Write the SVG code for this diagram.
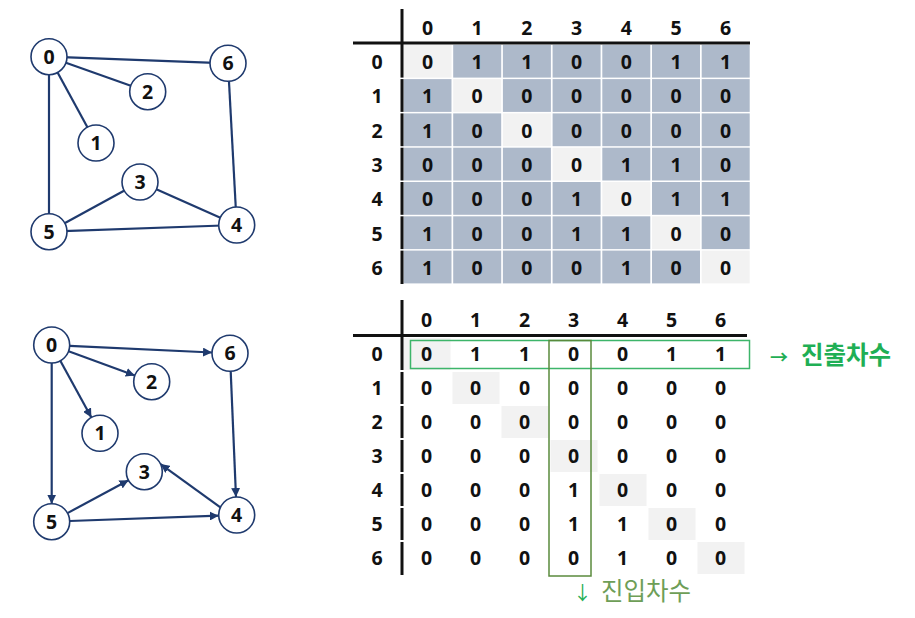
<svg xmlns="http://www.w3.org/2000/svg" width="915" height="618" viewBox="0 0 915 618">
<style>
.edge{stroke:#1F3A6E;stroke-width:2.2;fill:none}
.node circle{fill:#fff;stroke:#1F3A6E;stroke-width:1.6}
.node text,.t{font-family:"Noto Sans","DejaVu Sans",sans-serif;font-weight:bold;font-size:19.5px;fill:#111;text-anchor:middle}
.c{fill:#ADB9CA}
.d{fill:#F2F2F2}
.bar{stroke:#111;stroke-width:3}
.ko{font-family:"Noto Sans CJK KR","Noto Sans",sans-serif}
</style>
<defs>
<marker id="arr" viewBox="0 0 10 10" refX="10" refY="5" markerWidth="9" markerHeight="9" markerUnits="userSpaceOnUse" orient="auto">
<path d="M0,0 L10,5 L0,10 z" fill="#1F3A6E"/>
</marker>
</defs>
<rect width="915" height="618" fill="#fff"/>

<!-- top graph -->
<g id="top-edges">
<line class="edge" x1="49" y1="56.7" x2="228" y2="63.3"/>
<line class="edge" x1="49" y1="56.7" x2="147.7" y2="91.7"/>
<line class="edge" x1="49" y1="56.7" x2="96" y2="143"/>
<line class="edge" x1="49" y1="56.7" x2="49" y2="231.7"/>
<line class="edge" x1="228" y1="63.3" x2="236.7" y2="225"/>
<line class="edge" x1="140" y1="182" x2="49" y2="231.7"/>
<line class="edge" x1="140" y1="182" x2="236.7" y2="225"/>
<line class="edge" x1="49" y1="231.7" x2="236.7" y2="225"/>
</g>
<g id="t0" class="node"><circle cx="49" cy="56.7" r="18"/><text x="49" y="63.7">0</text></g>
<g id="t6" class="node"><circle cx="228" cy="63.3" r="18"/><text x="228" y="70.3">6</text></g>
<g id="t2" class="node"><circle cx="147.7" cy="91.7" r="18"/><text x="147.7" y="98.7">2</text></g>
<g id="t1" class="node"><circle cx="96" cy="143" r="18"/><text x="96" y="150">1</text></g>
<g id="t3" class="node"><circle cx="140" cy="182" r="18"/><text x="140" y="189">3</text></g>
<g id="t5" class="node"><circle cx="49" cy="231.7" r="18"/><text x="49" y="238.7">5</text></g>
<g id="t4" class="node"><circle cx="236.7" cy="225" r="18"/><text x="236.7" y="232">4</text></g>

<!-- bottom graph -->
<g id="bottom-edges">
<line class="edge" x1="69.7" y1="345.8" x2="212" y2="352.5" marker-end="url(#arr)"/>
<line class="edge" x1="68.6" y1="351.2" x2="134.8" y2="375.5" marker-end="url(#arr)"/>
<line class="edge" x1="60.3" y1="360.8" x2="91.4" y2="417.5" marker-end="url(#arr)"/>
<line class="edge" x1="51.7" y1="363" x2="51.7" y2="503.7" marker-end="url(#arr)"/>
<line class="edge" x1="230.7" y1="371.3" x2="236" y2="497" marker-end="url(#arr)"/>
<line class="edge" x1="67.5" y1="513.1" x2="128.5" y2="480.2" marker-end="url(#arr)"/>
<line class="edge" x1="220.4" y1="507.4" x2="160.6" y2="464.1" marker-end="url(#arr)"/>
<line class="edge" x1="69.7" y1="521" x2="218.7" y2="515.7" marker-end="url(#arr)"/>
</g>
<g id="b0" class="node"><circle cx="51.7" cy="345" r="18"/><text x="51.7" y="352">0</text></g>
<g id="b6" class="node"><circle cx="230" cy="353.3" r="18"/><text x="230" y="360.3">6</text></g>
<g id="b2" class="node"><circle cx="151.7" cy="381.7" r="18"/><text x="151.7" y="388.7">2</text></g>
<g id="b1" class="node"><circle cx="100" cy="433.3" r="18"/><text x="100" y="440.3">1</text></g>
<g id="b3" class="node"><circle cx="144.3" cy="471.7" r="18"/><text x="144.3" y="478.7">3</text></g>
<g id="b5" class="node"><circle cx="51.7" cy="521.7" r="18"/><text x="51.7" y="528.7">5</text></g>
<g id="b4" class="node"><circle cx="236.7" cy="515" r="18"/><text x="236.7" y="522">4</text></g>

<!-- top matrix -->
<g id="top-matrix">
<g id="top-cells">
<rect class="d" x="403.5" y="44.8" width="48" height="32.8"/>
<rect class="c" x="453.2" y="44.8" width="48" height="32.8"/>
<rect class="c" x="502.9" y="44.8" width="48" height="32.8"/>
<rect class="c" x="552.6" y="44.8" width="48" height="32.8"/>
<rect class="c" x="602.3" y="44.8" width="48" height="32.8"/>
<rect class="c" x="652" y="44.8" width="48" height="32.8"/>
<rect class="c" x="701.7" y="44.8" width="48" height="32.8"/>

<rect class="c" x="403.5" y="79.1" width="48" height="32.8"/>
<rect class="d" x="453.2" y="79.1" width="48" height="32.8"/>
<rect class="c" x="502.9" y="79.1" width="48" height="32.8"/>
<rect class="c" x="552.6" y="79.1" width="48" height="32.8"/>
<rect class="c" x="602.3" y="79.1" width="48" height="32.8"/>
<rect class="c" x="652" y="79.1" width="48" height="32.8"/>
<rect class="c" x="701.7" y="79.1" width="48" height="32.8"/>

<rect class="c" x="403.5" y="113.4" width="48" height="32.8"/>
<rect class="c" x="453.2" y="113.4" width="48" height="32.8"/>
<rect class="d" x="502.9" y="113.4" width="48" height="32.8"/>
<rect class="c" x="552.6" y="113.4" width="48" height="32.8"/>
<rect class="c" x="602.3" y="113.4" width="48" height="32.8"/>
<rect class="c" x="652" y="113.4" width="48" height="32.8"/>
<rect class="c" x="701.7" y="113.4" width="48" height="32.8"/>

<rect class="c" x="403.5" y="147.7" width="48" height="32.8"/>
<rect class="c" x="453.2" y="147.7" width="48" height="32.8"/>
<rect class="c" x="502.9" y="147.7" width="48" height="32.8"/>
<rect class="d" x="552.6" y="147.7" width="48" height="32.8"/>
<rect class="c" x="602.3" y="147.7" width="48" height="32.8"/>
<rect class="c" x="652" y="147.7" width="48" height="32.8"/>
<rect class="c" x="701.7" y="147.7" width="48" height="32.8"/>

<rect class="c" x="403.5" y="182" width="48" height="32.8"/>
<rect class="c" x="453.2" y="182" width="48" height="32.8"/>
<rect class="c" x="502.9" y="182" width="48" height="32.8"/>
<rect class="c" x="552.6" y="182" width="48" height="32.8"/>
<rect class="d" x="602.3" y="182" width="48" height="32.8"/>
<rect class="c" x="652" y="182" width="48" height="32.8"/>
<rect class="c" x="701.7" y="182" width="48" height="32.8"/>

<rect class="c" x="403.5" y="216.3" width="48" height="32.8"/>
<rect class="c" x="453.2" y="216.3" width="48" height="32.8"/>
<rect class="c" x="502.9" y="216.3" width="48" height="32.8"/>
<rect class="c" x="552.6" y="216.3" width="48" height="32.8"/>
<rect class="c" x="602.3" y="216.3" width="48" height="32.8"/>
<rect class="d" x="652" y="216.3" width="48" height="32.8"/>
<rect class="c" x="701.7" y="216.3" width="48" height="32.8"/>

<rect class="c" x="403.5" y="250.6" width="48" height="32.8"/>
<rect class="c" x="453.2" y="250.6" width="48" height="32.8"/>
<rect class="c" x="502.9" y="250.6" width="48" height="32.8"/>
<rect class="c" x="552.6" y="250.6" width="48" height="32.8"/>
<rect class="c" x="602.3" y="250.6" width="48" height="32.8"/>
<rect class="c" x="652" y="250.6" width="48" height="32.8"/>
<rect class="d" x="701.7" y="250.6" width="48" height="32.8"/>
</g>
<line class="bar" x1="353" y1="43" x2="750" y2="43"/>
<line class="bar" x1="402" y1="9" x2="402" y2="77.6"/>
<line class="bar" x1="402" y1="79.1" x2="402" y2="111.9"/>
<line class="bar" x1="402" y1="113.4" x2="402" y2="146.2"/>
<line class="bar" x1="402" y1="147.7" x2="402" y2="180.5"/>
<line class="bar" x1="402" y1="182" x2="402" y2="214.8"/>
<line class="bar" x1="402" y1="216.3" x2="402" y2="249.1"/>
<line class="bar" x1="402" y1="250.6" x2="402" y2="284"/>
<g id="top-text">
<text class="t" x="427.5" y="35">0</text><text class="t" x="477.2" y="35">1</text><text class="t" x="526.9" y="35">2</text><text class="t" x="576.6" y="35">3</text><text class="t" x="626.3" y="35">4</text><text class="t" x="676" y="35">5</text><text class="t" x="725.7" y="35">6</text>
<text class="t" x="377" y="69">0</text><text class="t" x="377" y="103.3">1</text><text class="t" x="377" y="137.6">2</text><text class="t" x="377" y="171.9">3</text><text class="t" x="377" y="206.2">4</text><text class="t" x="377" y="240.5">5</text><text class="t" x="377" y="274.8">6</text>

<text class="t" x="427.5" y="69">0</text><text class="t" x="477.2" y="69">1</text><text class="t" x="526.9" y="69">1</text><text class="t" x="576.6" y="69">0</text><text class="t" x="626.3" y="69">0</text><text class="t" x="676" y="69">1</text><text class="t" x="725.7" y="69">1</text>
<text class="t" x="427.5" y="103.3">1</text><text class="t" x="477.2" y="103.3">0</text><text class="t" x="526.9" y="103.3">0</text><text class="t" x="576.6" y="103.3">0</text><text class="t" x="626.3" y="103.3">0</text><text class="t" x="676" y="103.3">0</text><text class="t" x="725.7" y="103.3">0</text>
<text class="t" x="427.5" y="137.6">1</text><text class="t" x="477.2" y="137.6">0</text><text class="t" x="526.9" y="137.6">0</text><text class="t" x="576.6" y="137.6">0</text><text class="t" x="626.3" y="137.6">0</text><text class="t" x="676" y="137.6">0</text><text class="t" x="725.7" y="137.6">0</text>
<text class="t" x="427.5" y="171.9">0</text><text class="t" x="477.2" y="171.9">0</text><text class="t" x="526.9" y="171.9">0</text><text class="t" x="576.6" y="171.9">0</text><text class="t" x="626.3" y="171.9">1</text><text class="t" x="676" y="171.9">1</text><text class="t" x="725.7" y="171.9">0</text>
<text class="t" x="427.5" y="206.2">0</text><text class="t" x="477.2" y="206.2">0</text><text class="t" x="526.9" y="206.2">0</text><text class="t" x="576.6" y="206.2">1</text><text class="t" x="626.3" y="206.2">0</text><text class="t" x="676" y="206.2">1</text><text class="t" x="725.7" y="206.2">1</text>
<text class="t" x="427.5" y="240.5">1</text><text class="t" x="477.2" y="240.5">0</text><text class="t" x="526.9" y="240.5">0</text><text class="t" x="576.6" y="240.5">1</text><text class="t" x="626.3" y="240.5">1</text><text class="t" x="676" y="240.5">0</text><text class="t" x="725.7" y="240.5">0</text>
<text class="t" x="427.5" y="274.8">1</text><text class="t" x="477.2" y="274.8">0</text><text class="t" x="526.9" y="274.8">0</text><text class="t" x="576.6" y="274.8">0</text><text class="t" x="626.3" y="274.8">1</text><text class="t" x="676" y="274.8">0</text><text class="t" x="725.7" y="274.8">0</text>
</g>
</g>

<!-- bottom matrix -->
<g id="bottom-matrix">
<g id="bottom-cells">
<rect class="d" x="403.5" y="338" width="47" height="32"/>
<rect class="d" x="452.5" y="372" width="47" height="32"/>
<rect class="d" x="501.5" y="406" width="47" height="32"/>
<rect class="d" x="550.5" y="440" width="47" height="32"/>
<rect class="d" x="599.5" y="474" width="47" height="32"/>
<rect class="d" x="648.5" y="508" width="47" height="32"/>
<rect class="d" x="697.5" y="542" width="47" height="32"/>
</g>
<line class="bar" x1="353" y1="335.5" x2="747" y2="335.5"/>
<line class="bar" x1="402" y1="300" x2="402" y2="370"/>
<line class="bar" x1="402" y1="372" x2="402" y2="404"/>
<line class="bar" x1="402" y1="406" x2="402" y2="438"/>
<line class="bar" x1="402" y1="440" x2="402" y2="472"/>
<line class="bar" x1="402" y1="474" x2="402" y2="506"/>
<line class="bar" x1="402" y1="508" x2="402" y2="540"/>
<line class="bar" x1="402" y1="542" x2="402" y2="575"/>
<g id="bottom-text">
<text class="t" x="426.5" y="327">0</text><text class="t" x="475.5" y="327">1</text><text class="t" x="524.5" y="327">2</text><text class="t" x="573.5" y="327">3</text><text class="t" x="622.5" y="327">4</text><text class="t" x="671.5" y="327">5</text><text class="t" x="720.5" y="327">6</text>
<text class="t" x="377" y="361">0</text><text class="t" x="377" y="395">1</text><text class="t" x="377" y="429">2</text><text class="t" x="377" y="463">3</text><text class="t" x="377" y="497">4</text><text class="t" x="377" y="531">5</text><text class="t" x="377" y="565">6</text>

<text class="t" x="426.5" y="361">0</text><text class="t" x="475.5" y="361">1</text><text class="t" x="524.5" y="361">1</text><text class="t" x="573.5" y="361">0</text><text class="t" x="622.5" y="361">0</text><text class="t" x="671.5" y="361">1</text><text class="t" x="720.5" y="361">1</text>
<text class="t" x="426.5" y="395">0</text><text class="t" x="475.5" y="395">0</text><text class="t" x="524.5" y="395">0</text><text class="t" x="573.5" y="395">0</text><text class="t" x="622.5" y="395">0</text><text class="t" x="671.5" y="395">0</text><text class="t" x="720.5" y="395">0</text>
<text class="t" x="426.5" y="429">0</text><text class="t" x="475.5" y="429">0</text><text class="t" x="524.5" y="429">0</text><text class="t" x="573.5" y="429">0</text><text class="t" x="622.5" y="429">0</text><text class="t" x="671.5" y="429">0</text><text class="t" x="720.5" y="429">0</text>
<text class="t" x="426.5" y="463">0</text><text class="t" x="475.5" y="463">0</text><text class="t" x="524.5" y="463">0</text><text class="t" x="573.5" y="463">0</text><text class="t" x="622.5" y="463">0</text><text class="t" x="671.5" y="463">0</text><text class="t" x="720.5" y="463">0</text>
<text class="t" x="426.5" y="497">0</text><text class="t" x="475.5" y="497">0</text><text class="t" x="524.5" y="497">0</text><text class="t" x="573.5" y="497">1</text><text class="t" x="622.5" y="497">0</text><text class="t" x="671.5" y="497">0</text><text class="t" x="720.5" y="497">0</text>
<text class="t" x="426.5" y="531">0</text><text class="t" x="475.5" y="531">0</text><text class="t" x="524.5" y="531">0</text><text class="t" x="573.5" y="531">1</text><text class="t" x="622.5" y="531">1</text><text class="t" x="671.5" y="531">0</text><text class="t" x="720.5" y="531">0</text>
<text class="t" x="426.5" y="565">0</text><text class="t" x="475.5" y="565">0</text><text class="t" x="524.5" y="565">0</text><text class="t" x="573.5" y="565">0</text><text class="t" x="622.5" y="565">1</text><text class="t" x="671.5" y="565">0</text><text class="t" x="720.5" y="565">0</text>
</g>
<rect id="out-box" x="410.5" y="340.5" width="339" height="28" fill="none" stroke="#3DB56A" stroke-width="1.5"/>
<rect id="in-box" x="549" y="340.5" width="42" height="235.5" fill="none" stroke="#5A8A3C" stroke-width="1.5"/>
<text id="out-label" class="ko" y="364" font-size="24.5" font-weight="bold" fill="#1FAF55"><tspan x="770" font-size="18">→</tspan><tspan x="801">진출차수</tspan></text>
<text id="in-label" class="ko" y="600" font-size="24.5" fill="#6E9E57"><tspan x="573" fill="#1FAF55" font-size="19">↓</tspan><tspan x="601">진입차수</tspan></text>
</g>
</svg>
